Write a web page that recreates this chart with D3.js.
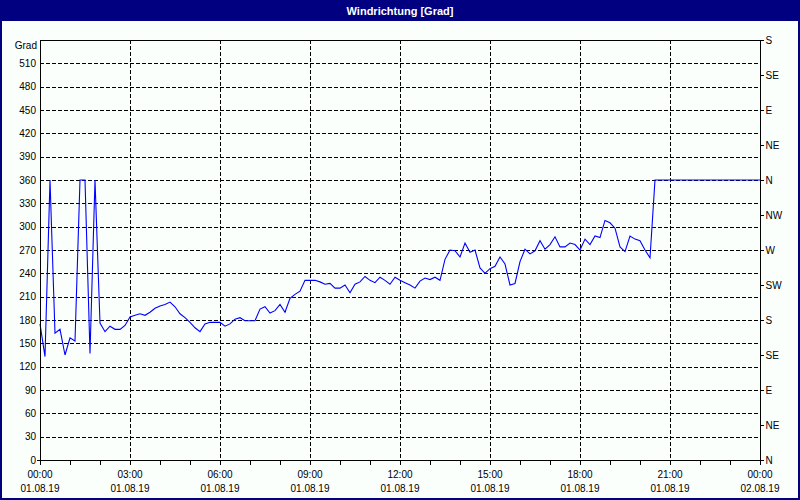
<!DOCTYPE html>
<html>
<head>
<meta charset="utf-8">
<script src="https://cdn.jsdelivr.net/npm/d3@7"></script>
<style>
html,body{margin:0;padding:0;background:#fbfffb;}
svg{display:block;}
text{font-family:Tahoma,"Liberation Sans",Arial,sans-serif;font-size:10px;fill:#000;}
</style>
</head>
<body>
<svg id="chart" width="800" height="500"></svg>
<script>
// ---- data (10-minute readings, 01.08.19 00:00 .. 02.08.19 00:00) ----
const startTime = new Date(2019, 7, 1, 0, 0);
const endTime = new Date(2019, 7, 2, 0, 0);
const stepMinutes = 10;
const windDir = [
  175,133,360,163,168,135,157,153,360,360,
  137,360,176,165,172,168,168,173,184,186,
  188,186,190,195,198,200,203,197,188,183,
  177,170,165,175,177,177,177,172,175,181,
  183,179,179,179,194,197,189,192,200,190,
  208,213,217,231,231,231,229,226,227,221,
  221,225,215,226,229,236,231,228,235,231,
  226,235,231,228,225,221,230,234,232,235,
  231,258,270,269,261,279,267,270,247,240,
  246,249,261,252,225,227,255,271,265,269,
  282,271,277,287,274,274,279,277,270,284,
  277,288,286,308,305,298,274,268,288,284,
  282,270,260,360,360,360,360,360,360,360,
  360,360,360,360,360,360,360,360,360,360,
  360,360,360,360,360
];
const leftTicks = [0,30,60,90,120,150,180,210,240,270,300,330,360,390,420,450,480,510];
const rightTickValues = [0,45,90,135,180,225,270,315,360,405,450,495,540];
const rightTickLabels = ["N","NE","E","SE","S","SW","W","NW","N","NE","E","SE","S"];
const timeLabels = ["00:00","03:00","06:00","09:00","12:00","15:00","18:00","21:00","00:00"];
const dateLabels = ["01.08.19","01.08.19","01.08.19","01.08.19","01.08.19","01.08.19","01.08.19","01.08.19","02.08.19"];
const titleText = "Windrichtung [Grad]";
const unitText = "Grad";

// ---- layout ----
const W = 800, H = 500;
const L = 40, R = 760, T = 40, B = 460;
const svg = d3.select("#chart");

svg.append("rect").attr("x",0).attr("y",0).attr("width",W).attr("height",H).attr("fill","#fbfffb");
svg.append("rect").attr("x",0).attr("y",0).attr("width",W).attr("height",21).attr("fill","#000080");
svg.append("rect").attr("x",1).attr("y",1).attr("width",W-2).attr("height",H-2)
  .attr("fill","none").attr("stroke","#000080").attr("stroke-width",2);
svg.append("text").attr("x",W/2).attr("y",14.5).attr("text-anchor","middle")
  .style("fill","#fff").style("font-weight","bold").style("font-size","11px").text(titleText);

const x = d3.scaleTime().domain([startTime, endTime]).range([L, R]);
const y = d3.scaleLinear().domain([0, 540]).range([B, T]);

const times = windDir.map((v,i) => d3.timeMinute.offset(startTime, i*stepMinutes));
const hourTicks = d3.timeHour.range(startTime, d3.timeMinute.offset(endTime,1), 1);
const labelTicks = d3.timeHour.range(startTime, d3.timeMinute.offset(endTime,1), 3);

// grid
const grid = svg.append("g").attr("stroke","#000").attr("stroke-width",1)
  .attr("stroke-dasharray","4,2").attr("shape-rendering","crispEdges");
grid.selectAll("line.h").data(leftTicks.filter(d=>d>0)).join("line")
  .attr("x1",L).attr("x2",R).attr("y1",d=>Math.round(y(d))+0.5).attr("y2",d=>Math.round(y(d))+0.5);
grid.selectAll("line.v").data(labelTicks.slice(1,-1)).join("line")
  .attr("y1",T).attr("y2",B).attr("x1",d=>Math.round(x(d))+0.5).attr("x2",d=>Math.round(x(d))+0.5);

// data line
svg.append("path").datum(windDir)
  .attr("fill","none").attr("stroke","#0000ff").attr("stroke-width",1.1)
  .attr("d", d3.line().x((d,i)=>x(times[i])).y(d=>y(d)));

// frame
svg.append("rect").attr("x",L+0.5).attr("y",T+0.5).attr("width",R-L).attr("height",B-T)
  .attr("fill","none").attr("stroke","#000").attr("shape-rendering","crispEdges");

// left axis labels
const ga = svg.append("g");
ga.selectAll("text.l").data(leftTicks).join("text")
  .attr("x",L-4).attr("y",d=>y(d)).attr("dy","0.35em").attr("text-anchor","end").text(d=>d);
ga.append("text").attr("x",L-3).attr("y",45).attr("dy","0.35em").attr("text-anchor","end").text(unitText);
ga.append("line").attr("x1",L-3).attr("x2",L).attr("y1",B+0.5).attr("y2",B+0.5).attr("stroke","#000").attr("shape-rendering","crispEdges");

// right axis
const yr = d3.scaleLinear().domain([0,540]).range([B,T]);
const rAxis = d3.axisRight(yr).tickValues(rightTickValues).tickSize(3).tickPadding(2)
  .tickFormat((d,i)=>rightTickLabels[i]);
const gr = svg.append("g").attr("transform",`translate(${R+0.5},0)`).call(rAxis);
gr.select(".domain").remove();
gr.selectAll("text").style("font-family",null).style("font-size",null);
gr.selectAll("line").attr("shape-rendering","crispEdges");
gr.attr("font-family",null).attr("font-size",null);

// bottom axis
const bAxis = d3.axisBottom(x).tickValues(hourTicks).tickSize(4).tickFormat("");
const gb = svg.append("g").attr("transform",`translate(0,${B+0.5})`).call(bAxis);
gb.select(".domain").remove();
gb.selectAll("line").attr("shape-rendering","crispEdges");
const bl = svg.append("g");
bl.selectAll("text.t").data(labelTicks).join("text")
  .attr("x",d=>x(d)).attr("y",474).attr("dy","0.35em").attr("text-anchor","middle")
  .text((d,i)=>timeLabels[i]);
bl.selectAll("text.d").data(labelTicks).join("text")
  .attr("class","d").attr("x",d=>x(d)).attr("y",488).attr("dy","0.35em").attr("text-anchor","middle")
  .text((d,i)=>dateLabels[i]);
</script>
</body>
</html>
